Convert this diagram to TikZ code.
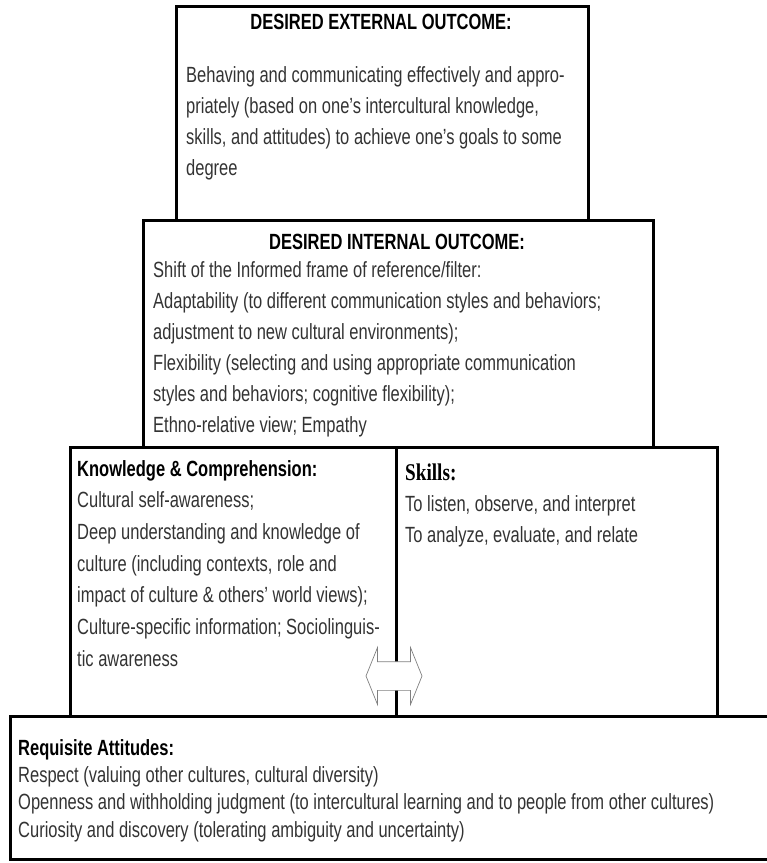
\documentclass[tikz,border=0pt]{standalone}
\usepackage{fontspec}
\setmainfont[FakeStretch=0.75]{Liberation Sans}
\newfontfamily\serifhead[FakeStretch=0.8]{Liberation Serif}
\usetikzlibrary{shapes.arrows}
\tikzset{
    box/.style = {draw, line width = 2.8pt, inner sep = 0pt, anchor = north west},
    head/.style = {font = \fontsize{22}{31}\selectfont\bfseries, inner sep = 0pt},
    body/.style = {font = \fontsize{22}{31}\selectfont, text = black!80, align = left, inner sep = 0pt, anchor = north west}
}
\begin{document}
\begin{tikzpicture}[x = 1pt, y = -1pt]
        \useasboundingbox (0,0) rectangle (767,863);
        % the boxes
        \node[box, minimum width = 412pt, minimum height = 214pt] (ext) at (175,5) {};
        \node[box, minimum width = 510pt, minimum height = 227pt] (int) at (142,219) {};
        \node[box, minimum width = 326pt, minimum height = 269pt] (know) at (69,446) {};
        \node[box, minimum width = 321pt, minimum height = 269pt] (skill) at (395,446) {};
        \node[box, minimum width = 765pt, minimum height = 143pt] (att) at (9,715) {};
        % the texts
        \node[head] (exthead) at (381,22) {DESIRED EXTERNAL OUTCOME:};
        \node[body] (exttext) at (186,66) {Behaving and communicating effectively and appro-\\priately (based on one’s intercultural knowledge,\\skills, and attitudes) to achieve one’s goals to some\\degree};
        \node[head] (inthead) at (397,242) {DESIRED INTERNAL OUTCOME:};
        \node[body] (inttext) at (153,261) {Shift of the Informed frame of reference/filter:\\Adaptability (to different communication styles and behaviors;\\adjustment to new cultural environments);\\Flexibility (selecting and using appropriate communication\\styles and behaviors; cognitive flexibility);\\Ethno-relative view; Empathy};
        \node[body, font = \fontsize{22}{31.7}\selectfont] (knowtext) at (77,460) {{\color{black}\bfseries Knowledge \& Comprehension:}\\Cultural self-awareness;\\Deep understanding and knowledge of\\culture (including contexts, role and\\impact of culture \& others’ world views);\\Culture-specific information; Sociolinguis-\\tic awareness};
        \node[body] (skilltext) at (405,464) {{\color{black}\serifhead\fontsize{24}{31}\selectfont\bfseries Skills:}\\To listen, observe, and interpret\\To analyze, evaluate, and relate};
        \node[body, font = \fontsize{22}{27.3}\selectfont] (atttext) at (18,739) {{\color{black}\bfseries Requisite Attitudes:}\\Respect (valuing other cultures, cultural diversity)\\Openness and withholding judgment (to intercultural learning and to people from other cultures)\\Curiosity and discovery (tolerating ambiguity and uncertainty)};
        % the two-way arrow
        \node[double arrow, draw = gray, fill = white, line width = 0.7pt, inner xsep = 0pt, inner ysep = 14pt, minimum height = 56pt, double arrow head extend = 14pt, double arrow tip angle = 136] (swap) at (394,676) {};
    \end{tikzpicture}
\end{document}
